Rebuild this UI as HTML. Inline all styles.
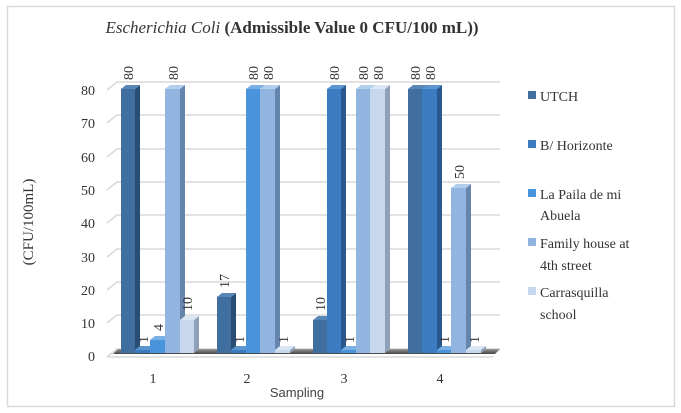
<!DOCTYPE html><html><head><meta charset="utf-8"><style>body{margin:0;background:#fff}svg{display:block}</style></head><body>
<svg width="681" height="413" viewBox="0 0 681 413" xmlns="http://www.w3.org/2000/svg">
<rect x="7.5" y="6.5" width="667" height="400" fill="#fff" stroke="#d9d9d9" stroke-width="1.5"/>
<text x="292" y="33" text-anchor="middle" font-family="Liberation Serif, serif" font-size="17" fill="#333"><tspan font-style="italic">Escherichia Coli</tspan><tspan font-weight="bold"> (Admissible  Value 0 CFU/100 mL))</tspan></text>
<g stroke="#d9d9d9" stroke-width="1.5" fill="none">
<path d="M107 90L117 82H500"/><path d="M107 123L117 115H500"/><path d="M107 157L117 149H500"/><path d="M107 190L117 182H500"/><path d="M107 223L117 215H500"/><path d="M107 257L117 249H500"/><path d="M107 290L117 282H500"/><path d="M107 323L117 315H500"/>
<path d="M107 357L117 349H500"/><path d="M107 357H493"/>
</g>
<defs><linearGradient id="sh" x1="0" y1="0" x2="0" y2="1"><stop offset="0" stop-color="#999"/><stop offset="1" stop-color="#444"/></linearGradient></defs>
<polygon points="113,354 118,349 500,349 495,354" fill="url(#sh)"/>
<g font-family="Liberation Serif, serif" font-size="14" fill="#333" text-anchor="end">
<text x="95" y="95">80</text><text x="95" y="128">70</text><text x="95" y="162">60</text><text x="95" y="195">50</text><text x="95" y="228">40</text><text x="95" y="262">30</text><text x="95" y="295">20</text><text x="95" y="328">10</text><text x="95" y="361">0</text>
</g>
<text transform="translate(33,222) rotate(-90)" text-anchor="middle" font-family="Liberation Serif, serif" font-size="15" fill="#333">(CFU/100mL)</text>
<g font-family="Liberation Serif, serif" font-size="14" fill="#333" text-anchor="middle">
<text x="153" y="383">1</text><text x="247" y="383">2</text><text x="344" y="383">3</text><text x="440" y="383">4</text>
</g>
<text x="297" y="397" text-anchor="middle" font-family="Liberation Sans, sans-serif" font-size="13" fill="#444">Sampling</text>
<g id="bars"></g>
<g font-family="Liberation Serif, serif" font-size="14" fill="#333">
<rect x="528" y="91" width="8" height="8" fill="#3f6e9f"/><text x="540" y="101">UTCH</text>
<rect x="528" y="140" width="8" height="8" fill="#3b7bbf"/><text x="540" y="150">B/ Horizonte</text>
<rect x="528" y="189" width="8" height="8" fill="#4a94dc"/><text x="540" y="199">La Paila de mi</text><text x="540" y="220">Abuela</text>
<rect x="528" y="238" width="8" height="8" fill="#91b5e0"/><text x="540" y="248">Family house at</text><text x="540" y="270">4th street</text>
<rect x="528" y="287" width="8" height="8" fill="#c6d7ee"/><text x="540" y="297">Carrasquilla</text><text x="540" y="319">school</text>
</g>
<g id="b">
<!-- bars generated statically -->
<g fill="#3f6e9f"><rect x="121" y="89" width="14" height="264"/><polygon points="135,89 140,85 140,349 135,353" fill="#2a4d75"/><polygon points="121,89 126,85 140,85 135,89" fill="#5a86b5"/></g>
<g><rect x="135" y="350" width="15" height="3" fill="#3b7bbf"/><polygon points="150,350 155,346 155,349 150,353" fill="#28588c"/><polygon points="135,350 140,346 155,346 150,350" fill="#5c95d0"/></g>
<g><rect x="150" y="340" width="15" height="13" fill="#4a94dc"/><polygon points="165,340 170,336 170,349 165,353" fill="#3270aa"/><polygon points="150,340 155,336 170,336 165,340" fill="#7ab0e6"/></g>
<g><rect x="165" y="89" width="15" height="264" fill="#91b5e0"/><polygon points="180,89 185,85 185,349 180,353" fill="#6585ad"/><polygon points="165,89 170,85 185,85 180,89" fill="#b3cdec"/></g>
<g><rect x="180" y="320" width="14" height="33" fill="#c6d7ee"/><polygon points="194,320 199,316 199,349 194,353" fill="#8fa1b8"/><polygon points="180,320 185,316 199,316 194,320" fill="#dbe6f4"/></g>

<g><rect x="217" y="297" width="14" height="56" fill="#3f6e9f"/><polygon points="231,297 236,293 236,349 231,353" fill="#2a4d75"/><polygon points="217,297 222,293 236,293 231,297" fill="#5a86b5"/></g>
<g><rect x="231" y="350" width="15" height="3" fill="#3b7bbf"/><polygon points="246,350 251,346 251,349 246,353" fill="#28588c"/><polygon points="231,350 236,346 251,346 246,350" fill="#5c95d0"/></g>
<g><rect x="246" y="89" width="14" height="264" fill="#4a94dc"/><polygon points="260,89 265,85 265,349 260,353" fill="#3270aa"/><polygon points="246,89 251,85 265,85 260,89" fill="#7ab0e6"/></g>
<g><rect x="260" y="89" width="15" height="264" fill="#91b5e0"/><polygon points="275,89 280,85 280,349 275,353" fill="#6585ad"/><polygon points="260,89 265,85 280,85 275,89" fill="#b3cdec"/></g>
<g><rect x="275" y="350" width="15" height="3" fill="#c6d7ee"/><polygon points="290,350 295,346 295,349 290,353" fill="#8fa1b8"/><polygon points="275,350 280,346 295,346 290,350" fill="#dbe6f4"/></g>

<g><rect x="313" y="320" width="14" height="33" fill="#3f6e9f"/><polygon points="327,320 332,316 332,349 327,353" fill="#2a4d75"/><polygon points="313,320 318,316 332,316 327,320" fill="#5a86b5"/></g>
<g><rect x="327" y="89" width="14" height="264" fill="#3b7bbf"/><polygon points="341,89 346,85 346,349 341,353" fill="#28588c"/><polygon points="327,89 332,85 346,85 341,89" fill="#5c95d0"/></g>
<g><rect x="341" y="350" width="15" height="3" fill="#4a94dc"/><polygon points="356,350 361,346 361,349 356,353" fill="#3270aa"/><polygon points="341,350 346,346 361,346 356,350" fill="#7ab0e6"/></g>
<g><rect x="356" y="89" width="14" height="264" fill="#91b5e0"/><polygon points="370,89 375,85 375,349 370,353" fill="#6585ad"/><polygon points="356,89 361,85 375,85 370,89" fill="#b3cdec"/></g>
<g><rect x="370" y="89" width="15" height="264" fill="#c6d7ee"/><polygon points="385,89 390,85 390,349 385,353" fill="#8fa1b8"/><polygon points="370,89 375,85 390,85 385,89" fill="#dbe6f4"/></g>

<g><rect x="408" y="89" width="14" height="264" fill="#3f6e9f"/><polygon points="422,89 427,85 427,349 422,353" fill="#2a4d75"/><polygon points="408,89 413,85 427,85 422,89" fill="#5a86b5"/></g>
<g><rect x="422" y="89" width="15" height="264" fill="#3b7bbf"/><polygon points="437,89 442,85 442,349 437,353" fill="#28588c"/><polygon points="422,89 427,85 442,85 437,89" fill="#5c95d0"/></g>
<g><rect x="437" y="350" width="14" height="3" fill="#4a94dc"/><polygon points="451,350 456,346 456,349 451,353" fill="#3270aa"/><polygon points="437,350 442,346 456,346 451,350" fill="#7ab0e6"/></g>
<g><rect x="451" y="188" width="15" height="165" fill="#91b5e0"/><polygon points="466,188 471,184 471,349 466,353" fill="#6585ad"/><polygon points="451,188 456,184 471,184 466,188" fill="#b3cdec"/></g>
<g><rect x="466" y="350" width="15" height="3" fill="#c6d7ee"/><polygon points="481,350 486,346 486,349 481,353" fill="#8fa1b8"/><polygon points="466,350 471,346 486,346 481,350" fill="#dbe6f4"/></g>
</g>
<g font-family="Liberation Serif, serif" font-size="14" fill="#333">
<text transform="translate(133,80) rotate(-90)">80</text>
<text transform="translate(148,343) rotate(-90)">1</text>
<text transform="translate(163,331) rotate(-90)">4</text>
<text transform="translate(178,80) rotate(-90)">80</text>
<text transform="translate(192,311) rotate(-90)">10</text>
<text transform="translate(229,288) rotate(-90)">17</text>
<text transform="translate(244,343) rotate(-90)">1</text>
<text transform="translate(258,80) rotate(-90)">80</text>
<text transform="translate(273,80) rotate(-90)">80</text>
<text transform="translate(288,343) rotate(-90)">1</text>
<text transform="translate(325,311) rotate(-90)">10</text>
<text transform="translate(339,80) rotate(-90)">80</text>
<text transform="translate(354,343) rotate(-90)">1</text>
<text transform="translate(368,80) rotate(-90)">80</text>
<text transform="translate(383,80) rotate(-90)">80</text>
<text transform="translate(420,80) rotate(-90)">80</text>
<text transform="translate(435,80) rotate(-90)">80</text>
<text transform="translate(449,343) rotate(-90)">1</text>
<text transform="translate(464,179) rotate(-90)">50</text>
<text transform="translate(479,343) rotate(-90)">1</text>
</g>
</svg>
</body></html>
